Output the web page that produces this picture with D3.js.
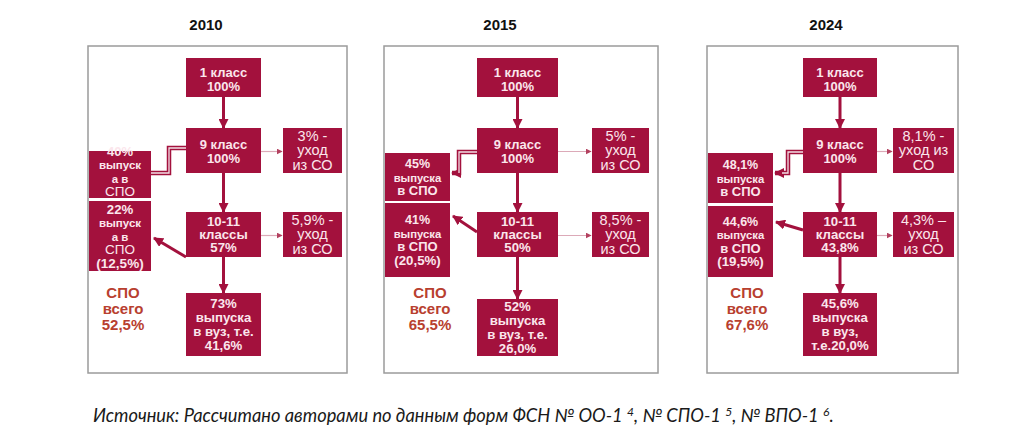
<!DOCTYPE html>
<html>
<head>
<meta charset="utf-8">
<script src="https://cdn.jsdelivr.net/npm/d3@7/dist/d3.min.js"></script>
<style>
  html, body { margin: 0; padding: 0; background: #fff; }
  svg { display: block; }
</style>
</head>
<body>
<svg id="chart" width="1024" height="442"></svg>
<script>
// values (percent)
const years = ['2010', '2015', '2024'];
const grade1 = [100, 100, 100];
const grade9 = [100, 100, 100];
const leave9 = [3, 5, 8.1];
const spoAfter9 = [40, 45, 48.1];
const grade11 = [57, 50, 43.8];
const leave11 = [5.9, 8.5, 4.3];
const spoAfter11 = [22, 41, 44.6];
const spoAfter11Share = [12.5, 20.5, 19.5];
const vuz = [73, 52, 45.6];
const vuzShare = [41.6, 26.0, 20.0];
const spoTotal = [52.5, 65.5, 67.6];

const ru = d3.formatLocale({decimal: ',', thousands: ' ', grouping: [3], currency: ['', '']});
const pct = v => (Number.isInteger(v) ? ru.format('d')(v) : ru.format('.1f')(v)) + '%';
const pct1 = v => ru.format('.1f')(v) + '%';

const RED = '#a3113d';
const TXT = '#fbe6ec';
const FONT = '"Liberation Sans", Arial, sans-serif';

// panel geometry (layout only)
const geom = d3.scaleOrdinal().domain(years).range([
  {x0: 88, x1: 347, cx0: 186, cx1: 261, rx0: 283, rx1: 342, lx1: 151, titleX: 206, elbowX: 169, elbowY: 148,
   l1: [151, 198], l2: [201, 271], vuz: [293, 356], diag: [[186, 257], [154, 238]], elbowHead: false, spoX: 123},
  {x0: 384, x1: 658, cx0: 477, cx1: 558, rx0: 592, rx1: 649, lx1: 450, titleX: 500, elbowX: 459, elbowY: 152,
   l1: [153, 201], l2: [203, 277], vuz: [299, 356], diag: [[477, 232], [453, 216]], elbowHead: true, spoX: 430},
  {x0: 707, x1: 958, cx0: 803, cx1: 877, rx0: 893, rx1: 954, lx1: 773, titleX: 826, elbowX: 788, elbowY: 152,
   l1: [153, 203], l2: [206, 277], vuz: [293, 356], diag: [[803, 230], [776, 222]], elbowHead: true, spoX: 747}
]);

// vertical stages
const stageY = d3.scaleOrdinal()
  .domain(['g1', 'g9', 'g11'])
  .range([[58, 97], [128, 173], [212, 257]]);

const svg = d3.select('#chart');
svg.append('rect').attr('width', 1024).attr('height', 442).attr('fill', '#fff');

const defs = svg.append('defs');
defs.append('marker')
  .attr('id', 'thick')
  .attr('markerUnits', 'userSpaceOnUse')
  .attr('viewBox', '0 0 10 10')
  .attr('refX', 9).attr('refY', 5)
  .attr('markerWidth', 10).attr('markerHeight', 10)
  .attr('orient', 'auto')
  .append('path').attr('d', 'M0,0 L10,5 L0,10 Z').attr('fill', RED);
defs.append('marker')
  .attr('id', 'thin')
  .attr('markerUnits', 'userSpaceOnUse')
  .attr('viewBox', '0 0 10 10')
  .attr('refX', 9).attr('refY', 5)
  .attr('markerWidth', 6).attr('markerHeight', 6)
  .attr('orient', 'auto')
  .append('path').attr('d', 'M0,0 L10,5 L0,10 Z').attr('fill', '#b3405f');

// lines = [{t, s, w}] ; draws a block of text centred on (cx, cy)
function multiline(g, lines, cx, cy, lh, fill) {
  const t = g.append('text')
    .attr('text-anchor', 'middle')
    .attr('font-family', FONT)
    .attr('fill', fill);
  const y0 = cy - (lines.length - 1) * lh / 2 + 4.5;
  lines.forEach((l, i) => {
    t.append('tspan')
      .attr('x', cx)
      .attr('y', y0 + i * lh)
      .attr('font-size', l.s || 13.2)
      .attr('font-weight', l.w || 'bold')
      .text(l.t);
  });
}

function box(g, x0, x1, y0, y1, lines, lh, dy = 0) {
  g.append('rect')
    .attr('x', x0).attr('y', y0)
    .attr('width', x1 - x0).attr('height', y1 - y0)
    .attr('fill', RED);
  multiline(g, lines, (x0 + x1) / 2, (y0 + y1) / 2 + dy, lh, TXT);
}

years.forEach((yr, i) => {
  const p = geom(yr);
  const g = svg.append('g').attr('class', 'panel');
  const cx = (p.cx0 + p.cx1) / 2;
  const [y1a, y1b] = stageY('g1');
  const [y9a, y9b] = stageY('g9');
  const [y11a, y11b] = stageY('g11');

  // title
  g.append('text')
    .attr('x', p.titleX).attr('y', 30)
    .attr('text-anchor', 'middle')
    .attr('font-family', FONT)
    .attr('font-weight', 'bold')
    .attr('font-size', 15)
    .attr('fill', '#111')
    .text(yr);

  // frame
  g.append('rect')
    .attr('x', p.x0).attr('y', 46)
    .attr('width', p.x1 - p.x0).attr('height', 327)
    .attr('fill', 'none')
    .attr('stroke', '#9b9b9b')
    .attr('stroke-width', 1.5);

  // connectors first
  const thick = (pts, head = true) => g.append('path')
    .attr('d', d3.line()(pts))
    .attr('fill', 'none')
    .attr('stroke', RED)
    .attr('stroke-width', 3)
    .attr('marker-end', head ? 'url(#thick)' : null);
  thick([[cx, y1b], [cx, y9a]]);
  thick([[cx, y9b], [cx, y11a]]);
  thick([[cx, y11b], [cx, p.vuz[0]]]);
  thick(p.diag);

  const thin = y => g.append('line')
    .attr('x1', p.cx1).attr('x2', p.rx0 - 1)
    .attr('y1', y).attr('y2', y)
    .attr('stroke', '#dcaab8')
    .attr('stroke-width', 1.2)
    .attr('marker-end', 'url(#thin)');
  thin((y9a + y9b) / 2 + 1);
  thin((y11a + y11b) / 2 + 1);

  // hollow elbow from 9 класс to the left box
  const elbowEnd = 173;
  const elbow = [[p.cx0, p.elbowY], [p.elbowX, p.elbowY], [p.elbowX, elbowEnd], [p.lx1 + (p.elbowHead ? 2 : 0), elbowEnd]];
  g.append('path')
    .attr('d', d3.line()(elbow))
    .attr('fill', 'none')
    .attr('stroke', RED)
    .attr('stroke-width', 4.5)
    .attr('marker-end', p.elbowHead ? 'url(#thick)' : null);
  g.append('path')
    .attr('d', d3.line()([[p.cx0, p.elbowY], [p.elbowX, p.elbowY], [p.elbowX, elbowEnd], [p.lx1 + (p.elbowHead ? 9 : 0), elbowEnd]]))
    .attr('fill', 'none')
    .attr('stroke', '#f3dfe5')
    .attr('stroke-width', 1.3);

  // central boxes
  box(g, p.cx0, p.cx1, y1a, y1b, [{t: '1 класс', s: 13}, {t: pct(grade1[i]), s: 13}], 14, 2);
  box(g, p.cx0, p.cx1, y9a, y9b, [{t: '9 класс', s: 13}, {t: pct(grade9[i]), s: 13}], 13.5, 1);
  box(g, p.cx0, p.cx1, y11a, y11b, [{t: '10-11'}, {t: 'классы'}, {t: pct(grade11[i])}], 13.3);
  const vuzLines = i === 2
    ? [{t: pct(vuz[i])}, {t: 'выпуска'}, {t: 'в вуз,'}, {t: 'т.е.' + pct1(vuzShare[i])}]
    : [{t: pct(vuz[i])}, {t: 'выпуска'}, {t: 'в вуз, т.е.'}, {t: pct1(vuzShare[i])}];
  box(g, p.cx0, p.cx1, p.vuz[0], p.vuz[1], vuzLines, 14);

  // dropout boxes
  const R = s => ({t: s, s: 14.5, w: 'normal'});
  const leave9Lines = i === 2
    ? [R(pct(leave9[i]) + ' -'), R('уход из'), R('СО')]
    : [R(pct(leave9[i]) + ' -'), R('уход'), R('из СО')];
  box(g, p.rx0, p.rx1, y9a, y9b, leave9Lines, 14.5);
  const dash = i === 2 ? ' –' : ' -';
  box(g, p.rx0, p.rx1, y11a, y11b, [R(pct(leave11[i]) + dash), R('уход'), R('из СО')], 14.5);

  // СПО boxes on the left
  const spo9Lines = i === 0
    ? [{t: pct(spoAfter9[i]), s: 13}, {t: 'выпуск', s: 11.5}, {t: 'а в', s: 11.5}, {t: 'СПО', s: 13.5, w: 'normal'}]
    : [{t: pct(spoAfter9[i]), s: 12.5}, {t: 'выпуска', s: 11.3}, {t: 'в СПО', s: 13}];
  box(g, p.x0 + 1, p.lx1, p.l1[0], p.l1[1], spo9Lines, 13.5, i === 0 ? -3 : 0);
  const spo11Lines = i === 0
    ? [{t: pct(spoAfter11[i])}, {t: 'выпуск', s: 11.5}, {t: 'а в', s: 11.5}, {t: 'СПО', s: 13.5, w: 'normal'},
       {t: '(' + pct(spoAfter11Share[i]) + ')', s: 13.5}]
    : [{t: pct(spoAfter11[i]), s: 12.5}, {t: 'выпуска', s: 11.3}, {t: 'в СПО', s: 13},
       {t: '(' + pct(spoAfter11Share[i]) + ')', s: 13.3}];
  box(g, p.x0 + 1, p.lx1, p.l2[0], p.l2[1], spo11Lines, 13.5);

  // total СПО
  multiline(g, [{t: 'СПО', s: 15}, {t: 'всего', s: 15}, {t: pct(spoTotal[i]), s: 15}],
    p.spoX, 309, 16, '#b8402f');
});

// source note
const note = svg.append('text')
  .attr('x', 93).attr('y', 422)
  .attr('font-family', 'Lato, "Open Sans", sans-serif')
  .attr('font-style', 'italic')
  .attr('font-size', 16)
  .attr('fill', '#1a1a1a');
const parts = [
  ['Источник: Рассчитано авторами по данным форм ФСН № ОО-1 ', false],
  ['4', true], [', № СПО-1 ', false], ['5', true], [', № ВПО-1 ', false], ['6', true], ['.', false]
];
parts.forEach(([t, sup], k) => {
  const ts = note.append('tspan').text(t);
  if (sup) ts.attr('font-size', 12).attr('dy', -6);
  else if (k > 0) ts.attr('dy', 6);
});
// fit the note to the width it has in the picture
const w = note.node().getComputedTextLength();
note.attr('font-size', 16 * 744 / w);
</script>
</body>
</html>
